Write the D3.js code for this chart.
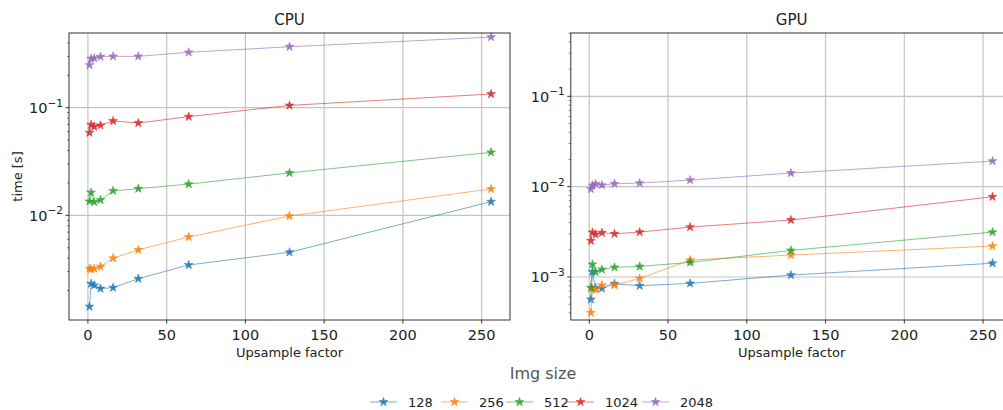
<!DOCTYPE html>
<html>
<head>
<meta charset="utf-8">
<script src="https://cdn.jsdelivr.net/npm/d3@7"></script>
<style>
  body { margin: 0; background: #fff; }
  svg { display: block; font-family: "DejaVu Sans", sans-serif; }
</style>
</head>
<body>
<svg id="chart" width="1003" height="410"></svg>
<script>
// Upsample factors on the x axis
const upsample = [1, 2, 4, 8, 16, 32, 64, 128, 256];
// Image sizes (one series each)
const imgSizes = ["128", "256", "512", "1024", "2048"];

// CPU timings [s]
const cpu128  = [0.00142, 0.00232, 0.00224, 0.00209, 0.00213, 0.00258, 0.00346, 0.00454, 0.0134];
const cpu256  = [0.0032, 0.00316, 0.0032, 0.00334, 0.0040, 0.00478, 0.0063, 0.00986, 0.0176];
const cpu512  = [0.0135, 0.0163, 0.0133, 0.0139, 0.0169, 0.0177, 0.0195, 0.0248, 0.0385];
const cpu1024 = [0.0586, 0.0695, 0.0667, 0.0686, 0.0753, 0.0721, 0.0826, 0.105, 0.134];
const cpu2048 = [0.249, 0.285, 0.288, 0.298, 0.300, 0.300, 0.327, 0.368, 0.453];

// GPU timings [s]
const gpu128  = [0.000565, 0.00114, 0.00076, 0.000748, 0.000841, 0.0008, 0.00085, 0.00105, 0.00142];
const gpu256  = [0.000402, 0.00074, 0.000728, 0.000813, 0.000813, 0.000964, 0.00154, 0.00175, 0.0022];
const gpu512  = [0.00076, 0.00138, 0.00114, 0.00121, 0.00128, 0.00131, 0.00145, 0.00197, 0.00314];
const gpu1024 = [0.00252, 0.00312, 0.00296, 0.00309, 0.00301, 0.00314, 0.00357, 0.00427, 0.00773];
const gpu2048 = [0.0094, 0.01033, 0.0107, 0.0104, 0.01076, 0.01096, 0.01183, 0.01415, 0.0192];

const xTicks = [0, 50, 100, 150, 200, 250];
const cpuYTicks = [1e-2, 1e-1];
const gpuYTicks = [1e-3, 1e-2, 1e-1];

const colors = ["#1f77b4", "#ff7f0e", "#2ca02c", "#d62728", "#9467bd"];

const svg = d3.select("#chart");
const star = d3.symbol().type(d3.symbolStar).size(24);

function drawPanel(opts) {
  const { title, series, yTicks, xRange, xDomain, yDomain, top, bottom, yLabel } = opts;
  const x = d3.scaleLinear().domain(xDomain).range(xRange);
  const y = d3.scaleLog().domain(yDomain).range([bottom, top]);
  const g = svg.append("g");
  const left = xRange[0], right = xRange[1];

  // grid
  g.append("g").selectAll("line").data(xTicks).join("line")
    .attr("x1", d => x(d)).attr("x2", d => x(d))
    .attr("y1", top).attr("y2", bottom)
    .attr("stroke", "#c4c4c4").attr("stroke-width", 1.2);
  g.append("g").selectAll("line").data(yTicks).join("line")
    .attr("y1", d => y(d)).attr("y2", d => y(d))
    .attr("x1", left).attr("x2", right)
    .attr("stroke", "#c4c4c4").attr("stroke-width", 1.2);

  // series
  const line = d3.line().x((d, i) => x(upsample[i])).y(d => y(d));
  series.forEach((vals, k) => {
    g.append("path").datum(vals).attr("d", line)
      .attr("fill", "none").attr("stroke", colors[k])
      .attr("stroke-width", 1).attr("stroke-opacity", 0.6);
    g.append("g").selectAll("path").data(vals).join("path")
      .attr("d", star)
      .attr("transform", (d, i) => `translate(${x(upsample[i])},${y(d)})`)
      .attr("fill", colors[k]).attr("fill-opacity", 0.85)
      .attr("stroke", colors[k]).attr("stroke-width", 0.6).attr("stroke-opacity", 0.85);
  });

  // frame
  g.append("rect").attr("x", left).attr("y", top)
    .attr("width", right - left).attr("height", bottom - top)
    .attr("fill", "none").attr("stroke", "#333").attr("stroke-width", 1);

  // x axis ticks and labels
  const xa = g.append("g");
  xa.selectAll("line").data(xTicks).join("line")
    .attr("x1", d => x(d)).attr("x2", d => x(d))
    .attr("y1", bottom).attr("y2", bottom + 3.5)
    .attr("stroke", "#333");
  xa.selectAll("text").data(xTicks).join("text")
    .attr("x", d => x(d)).attr("y", bottom + 20)
    .attr("text-anchor", "middle").attr("font-size", 14.5).attr("fill", "#222")
    .text(d => d);

  // y axis: major and minor log ticks
  const [lo, hi] = yDomain;
  const minor = [];
  for (let e = Math.floor(Math.log10(lo)); e <= Math.ceil(Math.log10(hi)); e++) {
    for (let m = 2; m <= 9; m++) {
      const v = m * Math.pow(10, e);
      if (v >= lo && v <= hi) minor.push(v);
    }
  }
  g.append("g").selectAll("line").data(minor).join("line")
    .attr("x1", left - 2).attr("x2", left)
    .attr("y1", d => y(d)).attr("y2", d => y(d))
    .attr("stroke", "#333").attr("stroke-width", 0.7);
  g.append("g").selectAll("line").data(yTicks).join("line")
    .attr("x1", left - 3.5).attr("x2", left)
    .attr("y1", d => y(d)).attr("y2", d => y(d))
    .attr("stroke", "#333");
  const yt = g.append("g").selectAll("text").data(yTicks).join("text")
    .attr("x", left - 6).attr("y", d => y(d) + 5.5)
    .attr("text-anchor", "end").attr("font-size", 14.5).attr("fill", "#222");
  yt.append("tspan").text("10");
  yt.append("tspan").attr("dy", -6.5).attr("font-size", 10.5)
    .text(d => "\u2212" + Math.round(-Math.log10(d)));

  // title and axis labels
  g.append("text").attr("x", (left + right) / 2).attr("y", 25)
    .attr("text-anchor", "middle").attr("font-size", 15).attr("fill", "#222")
    .text(title);
  g.append("text").attr("x", (left + right) / 2).attr("y", 357)
    .attr("text-anchor", "middle").attr("font-size", 13).attr("fill", "#222")
    .text("Upsample factor");
  if (yLabel) {
    g.append("text")
      .attr("transform", `translate(22,${(top + bottom) / 2}) rotate(-90)`)
      .attr("text-anchor", "middle").attr("font-size", 13).attr("fill", "#222")
      .text(yLabel);
  }
}

drawPanel({
  title: "CPU",
  series: [cpu128, cpu256, cpu512, cpu1024, cpu2048],
  yTicks: cpuYTicks,
  xDomain: [-12, 268], xRange: [69, 510],
  yDomain: [Math.pow(10, -2.972), Math.pow(10, -0.306)],
  top: 33, bottom: 320,
  yLabel: "time [s]"
});

drawPanel({
  title: "GPU",
  series: [gpu128, gpu256, gpu512, gpu1024, gpu2048],
  yTicks: gpuYTicks,
  xDomain: [-11.75, 268.75], xRange: [570.8, 1012.6],
  yDomain: [Math.pow(10, -3.476), Math.pow(10, -0.299)],
  top: 33, bottom: 320
});

// legend
const legend = svg.append("g");
legend.append("text").attr("x", 543).attr("y", 379)
  .attr("text-anchor", "middle").attr("font-size", 16).attr("fill", "#555")
  .text("Img size");
const legendX = [370, 441, 506, 567, 642];
imgSizes.forEach((s, k) => {
  const lx = legendX[k], ly = 402;
  legend.append("line").attr("x1", lx).attr("x2", lx + 27)
    .attr("y1", ly).attr("y2", ly)
    .attr("stroke", colors[k]).attr("stroke-width", 1).attr("stroke-opacity", 0.6);
  legend.append("path").attr("d", star)
    .attr("transform", `translate(${lx + 13.5},${ly})`)
    .attr("fill", colors[k]).attr("fill-opacity", 0.85)
    .attr("stroke", colors[k]).attr("stroke-width", 0.6).attr("stroke-opacity", 0.85);
  legend.append("text").attr("x", lx + 38).attr("y", ly + 5)
    .attr("font-size", 13).attr("fill", "#222").text(s);
});
</script>
</body>
</html>
